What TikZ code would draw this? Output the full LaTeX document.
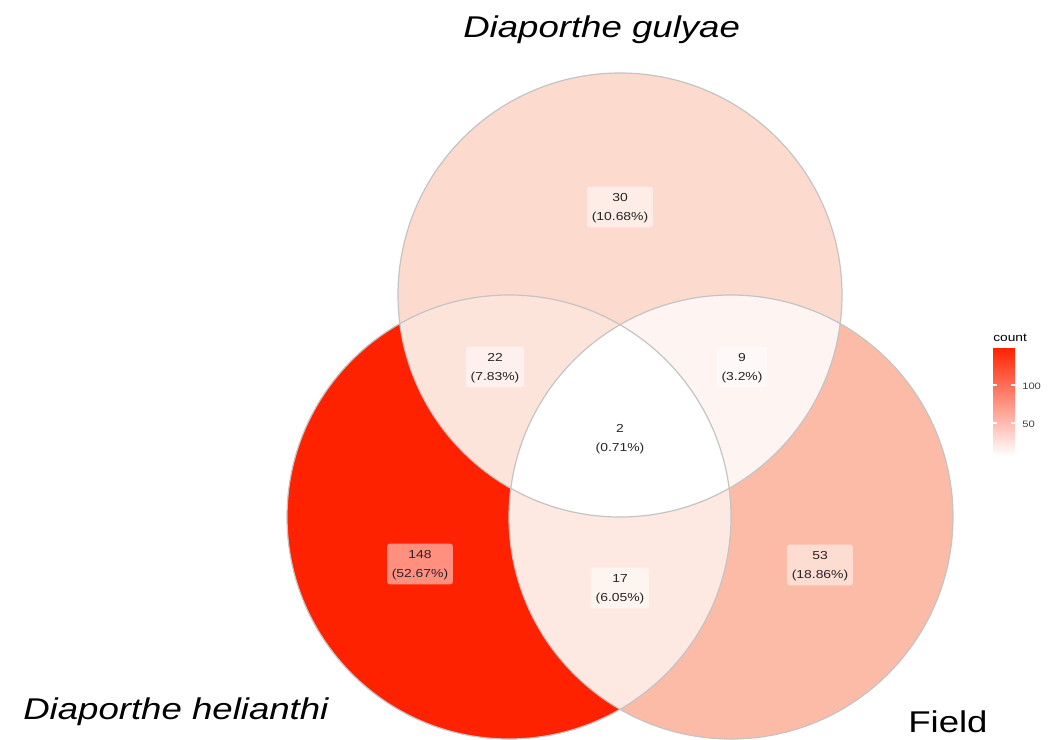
\documentclass[tikz,border=0pt]{standalone}
\usepackage{fontspec}
\setmainfont{Liberation Sans}
\definecolor{vred}{HTML}{FF2200}
\definecolor{ringgray}{HTML}{C4C4C4}
\definecolor{cA}{HTML}{FF2200}
\definecolor{cB}{HTML}{FDDACE}
\definecolor{cC}{HTML}{FCBBA6}
\definecolor{cAB}{HTML}{FDE4DB}
\definecolor{cBC}{HTML}{FEF4F1}
\definecolor{cAC}{HTML}{FEE9E2}
\colorlet{cABC}{white}
\newcommand{\vlab}[2]{\scalebox{1.2}[1]{\fontsize{8.7pt}{14.25pt}\selectfont\begin{tabular}{@{}c@{}}#1\\(#2\%)\end{tabular}}}
\newcommand{\ttl}[1]{\scalebox{1.22}[1]{\fontsize{22.5pt}{26pt}\selectfont #1}}
\tikzset{
  vbox/.style={fill=white, fill opacity=0.5, text opacity=1, rounded corners=2pt, inner xsep=3.5pt, inner ysep=1pt, text=black!85},
  ring/.style={draw=ringgray, line width=0.9pt},
  ttlnode/.style={inner sep=0pt, anchor=base west},
}
\begin{document}
\begin{tikzpicture}[x=0.75pt,y=-0.75pt]
\useasboundingbox (0,0) rectangle (1059,739);
% centres
\coordinate (cl) at (509,517);
\coordinate (ct) at (620,295);
\coordinate (cr) at (731,517);
\def\R{166.5pt}
% single sets
\fill[cA] (cl) circle[radius=\R];
\fill[cC] (cr) circle[radius=\R];
\fill[cB] (ct) circle[radius=\R];
% pairwise
\begin{scope}\clip (cl) circle[radius=\R]; \fill[cAB] (ct) circle[radius=\R];\end{scope}
\begin{scope}\clip (cr) circle[radius=\R]; \fill[cBC] (ct) circle[radius=\R];\end{scope}
\begin{scope}\clip (cl) circle[radius=\R]; \fill[cAC] (cr) circle[radius=\R];\end{scope}
\begin{scope}\clip (cl) circle[radius=\R]; \clip (cr) circle[radius=\R]; \fill[cABC] (ct) circle[radius=\R];\end{scope}
% outlines
\draw[ring] (cl) circle[radius=\R];
\draw[ring] (cr) circle[radius=\R];
\draw[ring] (ct) circle[radius=\R];
% labels
\node[vbox] (l30) at (620,207) {\vlab{30}{10.68}};
\node[vbox] (l22) at (495,367) {\vlab{22}{7.83}};
\node[vbox] (l9) at (742,367) {\vlab{9}{3.2}};
\node[vbox] (l2) at (620,438) {\vlab{2}{0.71}};
\node[vbox] (l148) at (420,564) {\vlab{148}{52.67}};
\node[vbox] (l17) at (620,588) {\vlab{17}{6.05}};
\node[vbox] (l53) at (820,565) {\vlab{53}{18.86}};
% titles
\node[ttlnode] (tg) at (463,37) {\ttl{\itshape Diaporthe gulyae}};
\node[ttlnode] (th) at (23,719) {\ttl{\itshape Diaporthe helianthi}};
\node[ttlnode] (tf) at (908,732) {\ttl{Field}};
% legend
\node[inner sep=0pt, anchor=base west] (lc) at (993,341) {\scalebox{1.2}[1]{\fontsize{8.6pt}{10pt}\selectfont count}};
\shade[top color=vred, bottom color=white] (993,348) rectangle (1015,456);
\draw[white, line width=0.8pt] (993,385) -- (997,385) (1011,385) -- (1015,385);
\draw[white, line width=0.8pt] (993,423) -- (997,423) (1011,423) -- (1015,423);
\node[inner sep=0pt, anchor=west, text=black!75] (t100) at (1022,386) {\scalebox{1.2}[1]{\fontsize{7pt}{8pt}\selectfont 100}};
\node[inner sep=0pt, anchor=west, text=black!75] (t50) at (1022,424) {\scalebox{1.2}[1]{\fontsize{7pt}{8pt}\selectfont 50}};
\end{tikzpicture}
\end{document}
